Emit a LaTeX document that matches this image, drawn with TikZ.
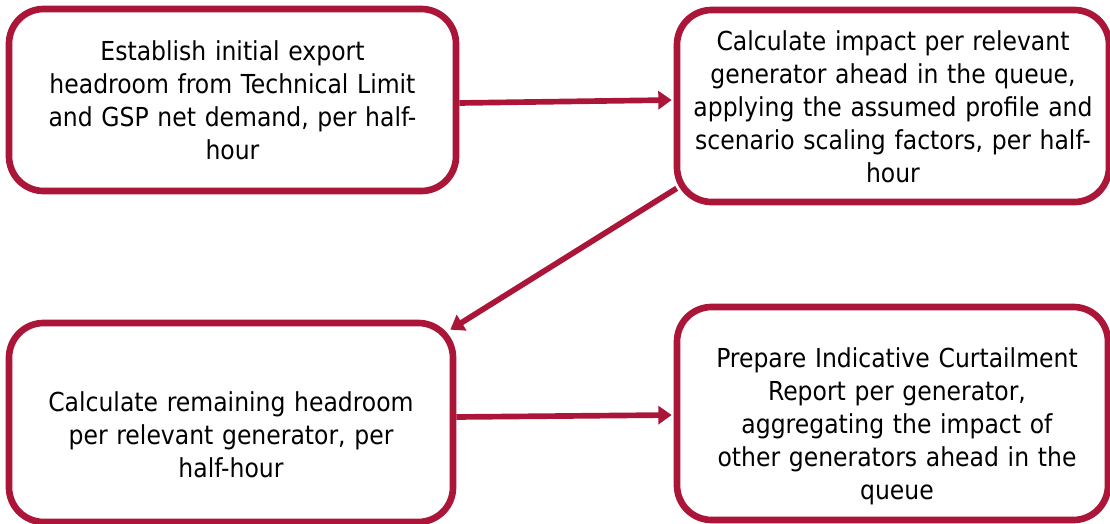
\documentclass[tikz,border=0pt]{standalone}
\usepackage{fontspec}
\setmainfont{DejaVu Sans Condensed}
\usetikzlibrary{arrows.meta,calc}
\definecolor{crim}{RGB}{170,21,56}
\tikzset{
  stepbox/.style={draw=crim, line width=5pt, rounded corners=26pt, fill=white, inner sep=0pt},
  steptext/.style={align=center, text width=310pt, font=\fontsize{19.6pt}{24.75pt}\selectfont, inner sep=0pt},
  flow/.style={draw=crim, line width=4.25pt, -{Triangle[length=10pt,width=13.5pt]}}
}
\begin{document}
\begin{tikzpicture}[x=0.75pt,y=-0.75pt]
\useasboundingbox (0,0) rectangle (1110,524);
\node[stepbox, minimum width=447*0.75pt, minimum height=182*0.75pt] (A) at (232.5,100) {};
\node[steptext] (tA) at (232.5,100) {Establish initial export\\headroom from Technical Limit\\and GSP net demand, per half-\\hour};
\node[stepbox, minimum width=432*0.75pt, minimum height=192*0.75pt] (B) at (893,106) {};
\node[steptext, text width=320pt] (tB) at (893,107) {Calculate impact per relevant\\generator ahead in the queue,\\applying the assumed profile and\\scenario scaling factors, per half-\\hour};
\node[stepbox, minimum width=444*0.75pt, minimum height=199*0.75pt] (C) at (231,422.5) {};
\node[steptext] (tC) at (231,435) {Calculate remaining headroom\\per relevant generator, per\\half-hour};
\node[stepbox, minimum width=431*0.75pt, minimum height=213*0.75pt] (D) at (892.5,413.5) {};
\node[steptext] (tD) at (897,426) {Prepare Indicative Curtailment\\Report per generator,\\aggregating the impact of\\other generators ahead in the\\queue};
\draw[flow] ($(A.east)+(0,3)$) -- ($(B.west)+(-2,-6)$);
\draw[flow] ($(B.south west)+(3,-17)$) -- ($(C.north east)+(-6,10)$);
\draw[flow] ($(C.east)+(0,-5.5)$) -- ($(D.west)+(-2,1.5)$);
\end{tikzpicture}
\end{document}
